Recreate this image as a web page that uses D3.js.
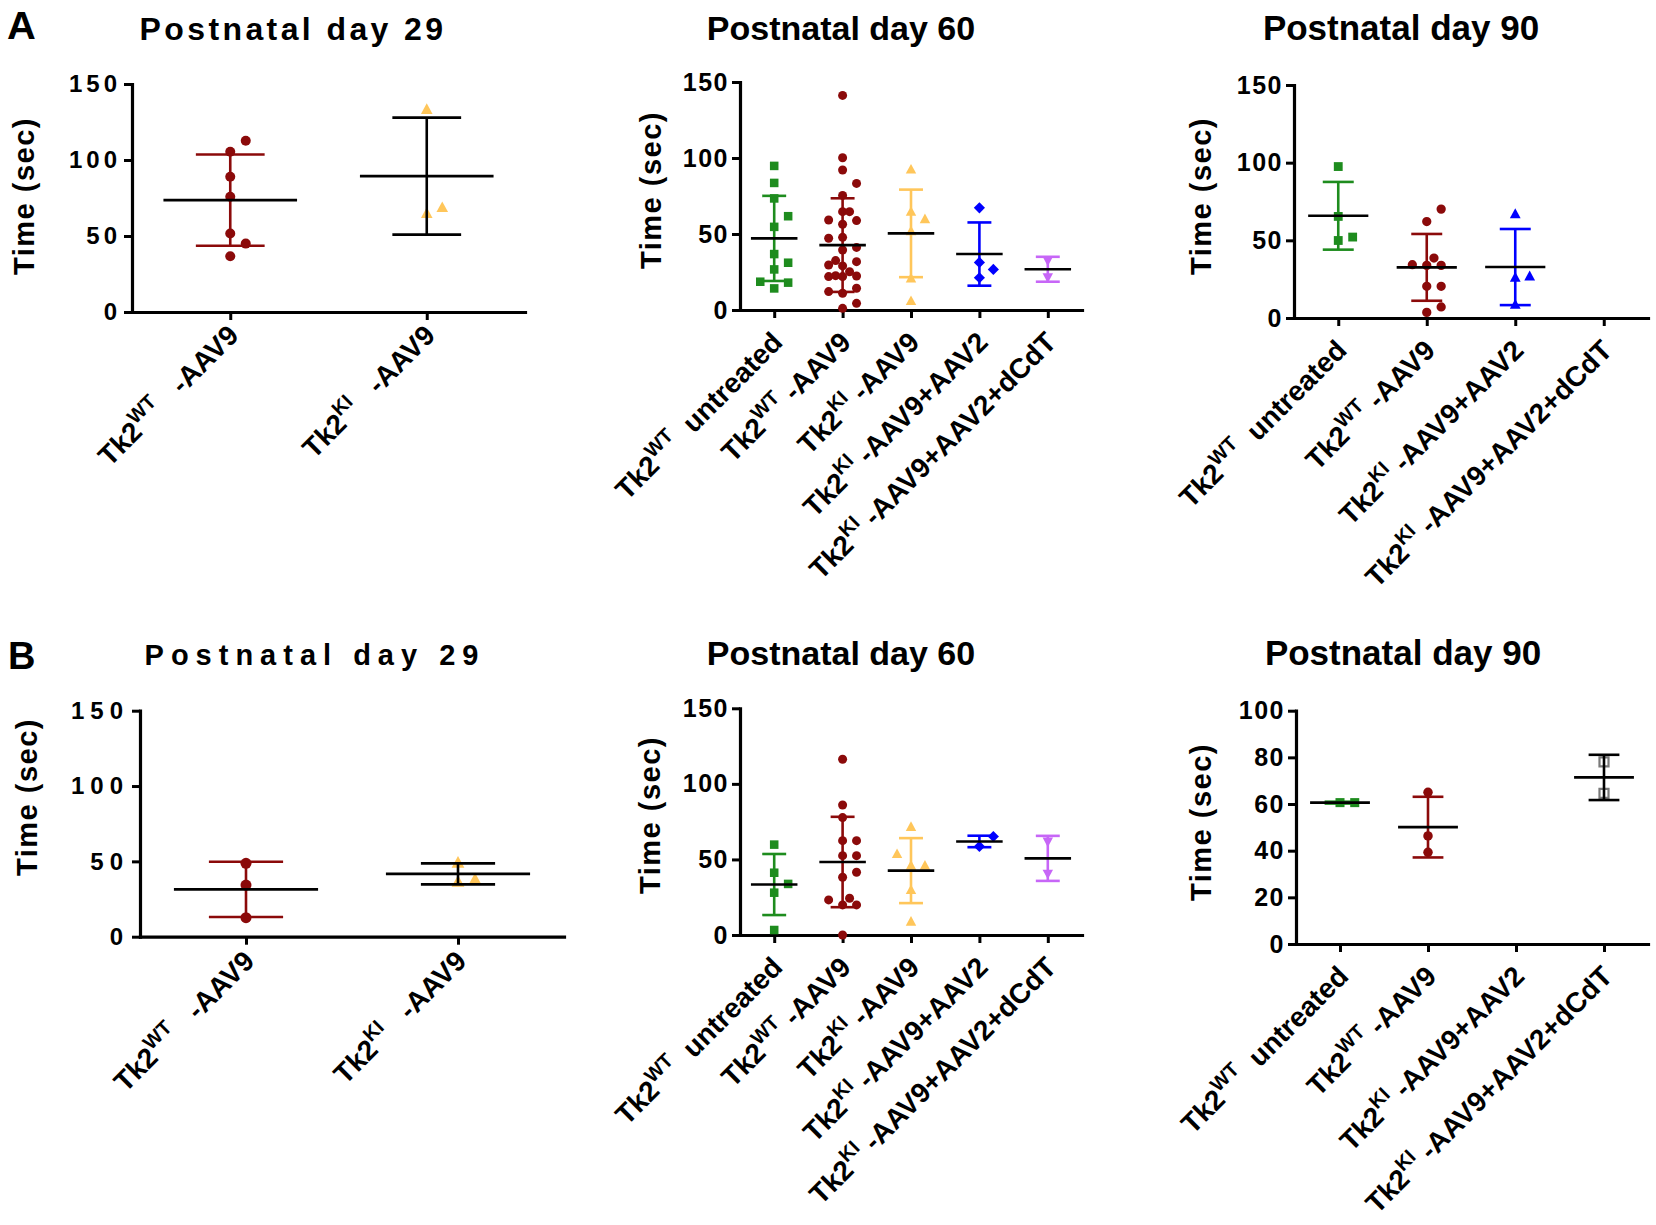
<!DOCTYPE html>
<html><head><meta charset="utf-8">
<script src="https://cdn.jsdelivr.net/npm/d3@7"></script>
<style>
html,body{margin:0;padding:0;background:#fff;}
svg text{font-family:"Liberation Sans",Arial,sans-serif;font-weight:bold;fill:#000;}
</style></head><body>
<svg id="chart" width="1656" height="1225"></svg>
<script>
// ================= DATA =================
const yTicks150 = [0, 50, 100, 150];
const yTicks100 = [0, 20, 40, 60, 80, 100];
const yLabel = "Time (sec)";
const titleDay29 = "Postnatal day 29";
const titleDay60 = "Postnatal day 60";
const titleDay90 = "Postnatal day 90";

// category labels: base|superscript|rest
const catsDay29 = ["Tk2|WT|   -AAV9", "Tk2|KI|   -AAV9"];
const catsDay60 = ["Tk2|WT|  untreated", "Tk2|WT| -AAV9", "Tk2|KI| -AAV9", "Tk2|KI| -AAV9+AAV2", "Tk2|KI| -AAV9+AAV2+dCdT"];
const catsDay90 = ["Tk2|WT|  untreated", "Tk2|WT| -AAV9", "Tk2|KI| -AAV9+AAV2", "Tk2|KI| -AAV9+AAV2+dCdT"];

// Panel A - day 29
const a29_wtAav9 = [112.7, 105.4, 89.0, 75.8, 51.6, 45.0, 36.7];
const a29_kiAav9 = [133.3, 64.8, 68.7];
const a29_mean = [73.6, 89.4];
const a29_sd = [30.0, 38.5];

// Panel A - day 60
const a60_wtUntreated = [94.8, 83.6, 73.4, 61.7, 54.7, 36.8, 31.1, 26.7, 18.6, 18.0, 14.2];
const a60_wtAav9 = [141.2, 100.2, 92.1, 83.3, 75.4, 64.7, 64.7, 59.2, 58.8, 56.4, 47.8, 47.2, 41.2, 39.5, 32.5, 31.8, 29.6, 29.0, 25.2, 22.6, 22.4, 22.0, 22.0, 14.3, 12.1, 11.0, 4.4, 1.1];
const a60_kiAav9 = [92.4, 64.6, 59.8, 51.9, 20.8, 5.9];
const a60_kiAav9Aav2 = [67.2, 31.3, 26.7, 21.2];
const a60_kiAav9Aav2dCdT = [32.5, 21.5];
const a60_mean = [47.1, 42.7, 50.4, 36.8, 26.8];
const a60_sd = [28.0, 30.8, 28.8, 20.8, 8.2];

// Panel A - day 90
const a90_wtUntreated = [97.5, 65.4, 52.1, 49.9];
const a90_wtAav9 = [70.1, 62.1, 38.6, 34.3, 33.9, 33.9, 20.4, 20.4, 7.1, 3.6];
const a90_kiAav9Aav2 = [66.9, 26.8, 26.1, 8.6];
const a90_kiAav9Aav2dCdT = [];
const a90_mean = [65.8, 32.6, 32.8, null];
const a90_sd = [21.8, 21.5, 24.5, null];

// Panel B - day 29
const b29_wtAav9 = [48.7, 34.3, 12.6];
const b29_kiAav9 = [49.0, 38.0, 36.5];
const b29_mean = [31.4, 41.7];
const b29_sd = [18.3, 7.0];

// Panel B - day 60
const b60_wtUntreated = [59.8, 41.2, 33.8, 28.0, 3.3];
const b60_wtAav9 = [116.3, 86.0, 77.7, 62.4, 62.4, 52.5, 52.5, 41.5, 38.2, 24.3, 23.2, 19.9, 19.9, 0.0];
const b60_kiAav9 = [71.5, 53.6, 45.9, 45.9, 29.8, 8.8];
const b60_kiAav9Aav2 = [65.2, 58.6];
const b60_kiAav9Aav2dCdT = [61.8, 40.5];
const b60_mean = [33.4, 48.3, 42.6, 61.9, 50.7];
const b60_sd = [20.2, 29.9, 21.5, 3.8, 14.9];

// Panel B - day 90
const b90_wtUntreated = [60.6, 60.6];
const b90_wtAav9 = [65.0, 46.3, 39.3];
const b90_kiAav9Aav2 = [];
const b90_kiAav9Aav2dCdT = [78.1, 64.6];
const b90_mean = [60.6, 50.1, null, 71.4];
const b90_sd = [0.4, 13.0, null, 9.7];

// ================= STYLES =================
const GREEN = "#1e8c1e", RED = "#8b0a0a", YELLOW = "#ffc65a", BLUE = "#0000ff", VIOLET = "#c766f7", GRAY = "#7a7a7a", BLACK = "#000";
const stWtUnt = {shape: "square", color: GREEN, bar: GREEN};
const stWtAav9 = {shape: "circle", color: RED, bar: RED};
const stKiYellow = {shape: "triUp", color: YELLOW, bar: YELLOW};
const stKiYellowBlk = {shape: "triUp", color: YELLOW, bar: BLACK};
const stDiamond = {shape: "diamond", color: BLUE, bar: BLUE};
const stTriBlue = {shape: "triUp", color: BLUE, bar: BLUE};
const stViolet = {shape: "triDown", color: VIOLET, bar: VIOLET};
const stOpenGray = {shape: "openSquare", color: GRAY, bar: BLACK};

const panels = [
  {letter: "A", letterPos: [7, 39, 38, 1.05], title: titleDay29, titlePos: [293, 40, 32, 3.4],
   cats: catsDay29, series: [a29_wtAav9, a29_kiAav9], styles: [stWtAav9, stKiYellowBlk], means: a29_mean, sds: a29_sd,
   x0: 132, x1: 525, yZero: 312, yTop: 84, yMax: 150, yTicks: yTicks150, tickFont: [24, 4], diam: 10,
   ylab: [23.5, 196], labOff: 25},
  {title: titleDay60, titlePos: [841, 40, 34, 0],
   cats: catsDay60, series: [a60_wtUntreated, a60_wtAav9, a60_kiAav9, a60_kiAav9Aav2, a60_kiAav9Aav2dCdT],
   styles: [stWtUnt, stWtAav9, stKiYellow, stDiamond, stViolet], means: a60_mean, sds: a60_sd,
   x0: 740, x1: 1082, yZero: 310, yTop: 82, yMax: 150, yTicks: yTicks150, tickFont: [25, 1.5], diam: 9,
   ylab: [650.5, 190], labOff: 34},
  {title: titleDay90, titlePos: [1401, 40, 35, 0],
   cats: catsDay90, series: [a90_wtUntreated, a90_wtAav9, a90_kiAav9Aav2, a90_kiAav9Aav2dCdT],
   styles: [stWtUnt, stWtAav9, stTriBlue, stTriBlue], means: a90_mean, sds: a90_sd,
   x0: 1294, x1: 1648, yZero: 318, yTop: 85, yMax: 150, yTicks: yTicks150, tickFont: [25, 1.5], diam: 9.3,
   ylab: [1200.5, 196], labOff: 34},
  {letter: "B", letterPos: [8, 669, 38, 1.0], title: titleDay29, titlePos: [315, 665, 29, 7],
   cats: catsDay29, series: [b29_wtAav9, b29_kiAav9], styles: [stWtAav9, stKiYellowBlk], means: b29_mean, sds: b29_sd,
   x0: 140, x1: 564, yZero: 936.7, yTop: 710.7, yMax: 150, yTicks: yTicks150, tickFont: [24, 6], diam: 11,
   ylab: [27, 797], labOff: 26},
  {title: titleDay60, titlePos: [841, 665, 34, 0],
   cats: catsDay60, series: [b60_wtUntreated, b60_wtAav9, b60_kiAav9, b60_kiAav9Aav2, b60_kiAav9Aav2dCdT],
   styles: [stWtUnt, stWtAav9, stKiYellow, stDiamond, stViolet], means: b60_mean, sds: b60_sd,
   x0: 740, x1: 1082, yZero: 935, yTop: 708.3, yMax: 150, yTicks: yTicks150, tickFont: [25, 1.5], diam: 9,
   ylab: [650, 815], labOff: 34},
  {title: titleDay90, titlePos: [1403, 665, 35, 0],
   cats: catsDay90, series: [b90_wtUntreated, b90_wtAav9, b90_kiAav9Aav2, b90_kiAav9Aav2dCdT],
   styles: [stWtUnt, stWtAav9, stTriBlue, stOpenGray], means: b90_mean, sds: b90_sd,
   x0: 1296, x1: 1648, yZero: 944, yTop: 710.7, yMax: 100, yTicks: yTicks100, tickFont: [25, 1.5], diam: 9.5,
   ylab: [1200.5, 822], labOff: 34}
];

// ================= DRAWING =================
const svg = d3.select("#chart");

function markerPath(shape, s) {
  const h = s / 2;
  switch (shape) {
    case "circle": return d3.symbol(d3.symbolCircle, Math.PI * h * h)();
    case "square": case "openSquare": { const q = h * 0.95; return `M${-q},${-q}H${q}V${q}H${-q}Z`; }
    case "triUp": { const w = s * 0.58, t = s * 0.62, b = s * 0.45; return `M0,${-t}L${w},${b}L${-w},${b}Z`; }
    case "triDown": { const w = s * 0.58, t = s * 0.62, b = s * 0.45; return `M0,${t}L${w},${-b}L${-w},${-b}Z`; }
    case "diamond": { const d = s * 0.62; return `M0,${-d}L${d},0L0,${d}L${-d},0Z`; }
  }
}

// simple deterministic scatter-dot layout (column spreading of overlapping points)
function swarm(vals, y, diam) {
  const stepX = diam * 1.55;
  const cands = [0, 1, -1, 0.5, -0.5];
  const idx = vals.map((v, i) => i).sort((a, b) => vals[a] - vals[b]);
  const placed = [];
  const out = new Array(vals.length);
  for (const i of idx) {
    const py = y(vals[i]);
    let best = 0, bestScore = -Infinity;
    for (const k of cands) {
      const px = k * stepX;
      let minD = Infinity;
      for (const q of placed) {
        const d = Math.hypot((q.x - px) / (diam * 0.95), (q.y - py) / (diam * 1.35));
        if (d < minD) minD = d;
      }
      if (minD >= 1) { best = px; break; }
      if (minD > bestScore) { bestScore = minD; best = px; }
    }
    out[i] = {x: best, y: py};
    placed.push(out[i]);
  }
  return out;
}

panels.forEach(p => {
  const g = svg.append("g");
  const x = d3.scalePoint().domain(d3.range(p.cats.length)).range([p.x0, p.x1]).padding(0.5);
  const y = d3.scaleLinear().domain([0, p.yMax]).range([p.yZero, p.yTop]);
  const step = x.step();

  // panel letter
  if (p.letter) {
    g.append("text").attr("transform", `translate(${p.letterPos[0]},${p.letterPos[1]}) scale(${p.letterPos[3]},1)`)
      .style("font-size", p.letterPos[2] + "px").text(p.letter);
  }
  // title
  g.append("text").attr("x", p.titlePos[0]).attr("y", p.titlePos[1]).attr("text-anchor", "middle")
    .style("font-size", p.titlePos[2] + "px").style("letter-spacing", p.titlePos[3] + "px").text(p.title);
  // y label
  g.append("text").attr("transform", `translate(${p.ylab[0]},${p.ylab[1]}) rotate(-90)`)
    .attr("text-anchor", "middle").attr("dy", "0.36em")
    .style("font-size", "29px").style("letter-spacing", "1.5px").text(yLabel);

  // axes
  const yAxis = d3.axisLeft(y).tickValues(p.yTicks).tickSize(8).tickSizeOuter(0).tickPadding(3).tickFormat(d3.format("d"));
  const ya = g.append("g").attr("transform", `translate(${p.x0},0)`).call(yAxis);
  ya.selectAll("text").style("font-size", p.tickFont[0] + "px").style("letter-spacing", p.tickFont[1] + "px")
    .style("font-family", '"Liberation Sans",Arial,sans-serif').style("font-weight", "bold").attr("fill", "#000");
  const xAxis = d3.axisBottom(x).tickSize(8).tickSizeOuter(0).tickFormat("");
  const xa = g.append("g").attr("transform", `translate(0,${p.yZero})`).call(xAxis);
  [ya, xa].forEach(a => {
    a.select(".domain").attr("stroke", "#000").attr("stroke-width", 3.2).attr("stroke-linecap", "square");
    a.selectAll(".tick line").attr("stroke", "#000").attr("stroke-width", 3);
  });

  // x category labels
  p.cats.forEach((c, i) => {
    const [base, sup, rest] = c.split("|");
    const t = g.append("text")
      .attr("transform", `translate(${x(i) + 10},${p.yZero + p.labOff}) rotate(-45)`)
      .attr("text-anchor", "end").style("font-size", "28px").style("white-space", "pre");
    t.append("tspan").text(base);
    t.append("tspan").attr("dy", -12).style("font-size", "20px").text(sup);
    t.append("tspan").attr("dy", 12).text(rest);
  });

  // points
  p.series.forEach((vals, i) => {
    const st = p.styles[i];
    const pos = swarm(vals, y, p.diam);
    g.append("g").selectAll("path").data(pos).join("path")
      .attr("d", markerPath(st.shape, p.diam))
      .attr("transform", d => `translate(${x(i) + d.x},${d.y})`)
      .attr("fill", st.shape === "openSquare" ? "none" : st.color)
      .attr("stroke", st.shape === "openSquare" ? st.color : "none")
      .attr("stroke-width", st.shape === "openSquare" ? 2.2 : 0);
  });

  // error bars and means
  p.means.forEach((m, i) => {
    if (m === null) return;
    const sd = p.sds[i], st = p.styles[i], cx = x(i);
    const capW = step * 0.175, meanW = step * 0.34;
    const eg = g.append("g").attr("stroke", st.bar).attr("stroke-width", 2.6).attr("fill", "none");
    eg.append("line").attr("x1", cx).attr("x2", cx).attr("y1", y(m - sd)).attr("y2", y(m + sd));
    eg.append("line").attr("x1", cx - capW).attr("x2", cx + capW).attr("y1", y(m + sd)).attr("y2", y(m + sd));
    eg.append("line").attr("x1", cx - capW).attr("x2", cx + capW).attr("y1", y(m - sd)).attr("y2", y(m - sd));
    g.append("line").attr("x1", cx - meanW).attr("x2", cx + meanW).attr("y1", y(m)).attr("y2", y(m))
      .attr("stroke", "#000").attr("stroke-width", 2.6);
  });
});
</script>
</body></html>
